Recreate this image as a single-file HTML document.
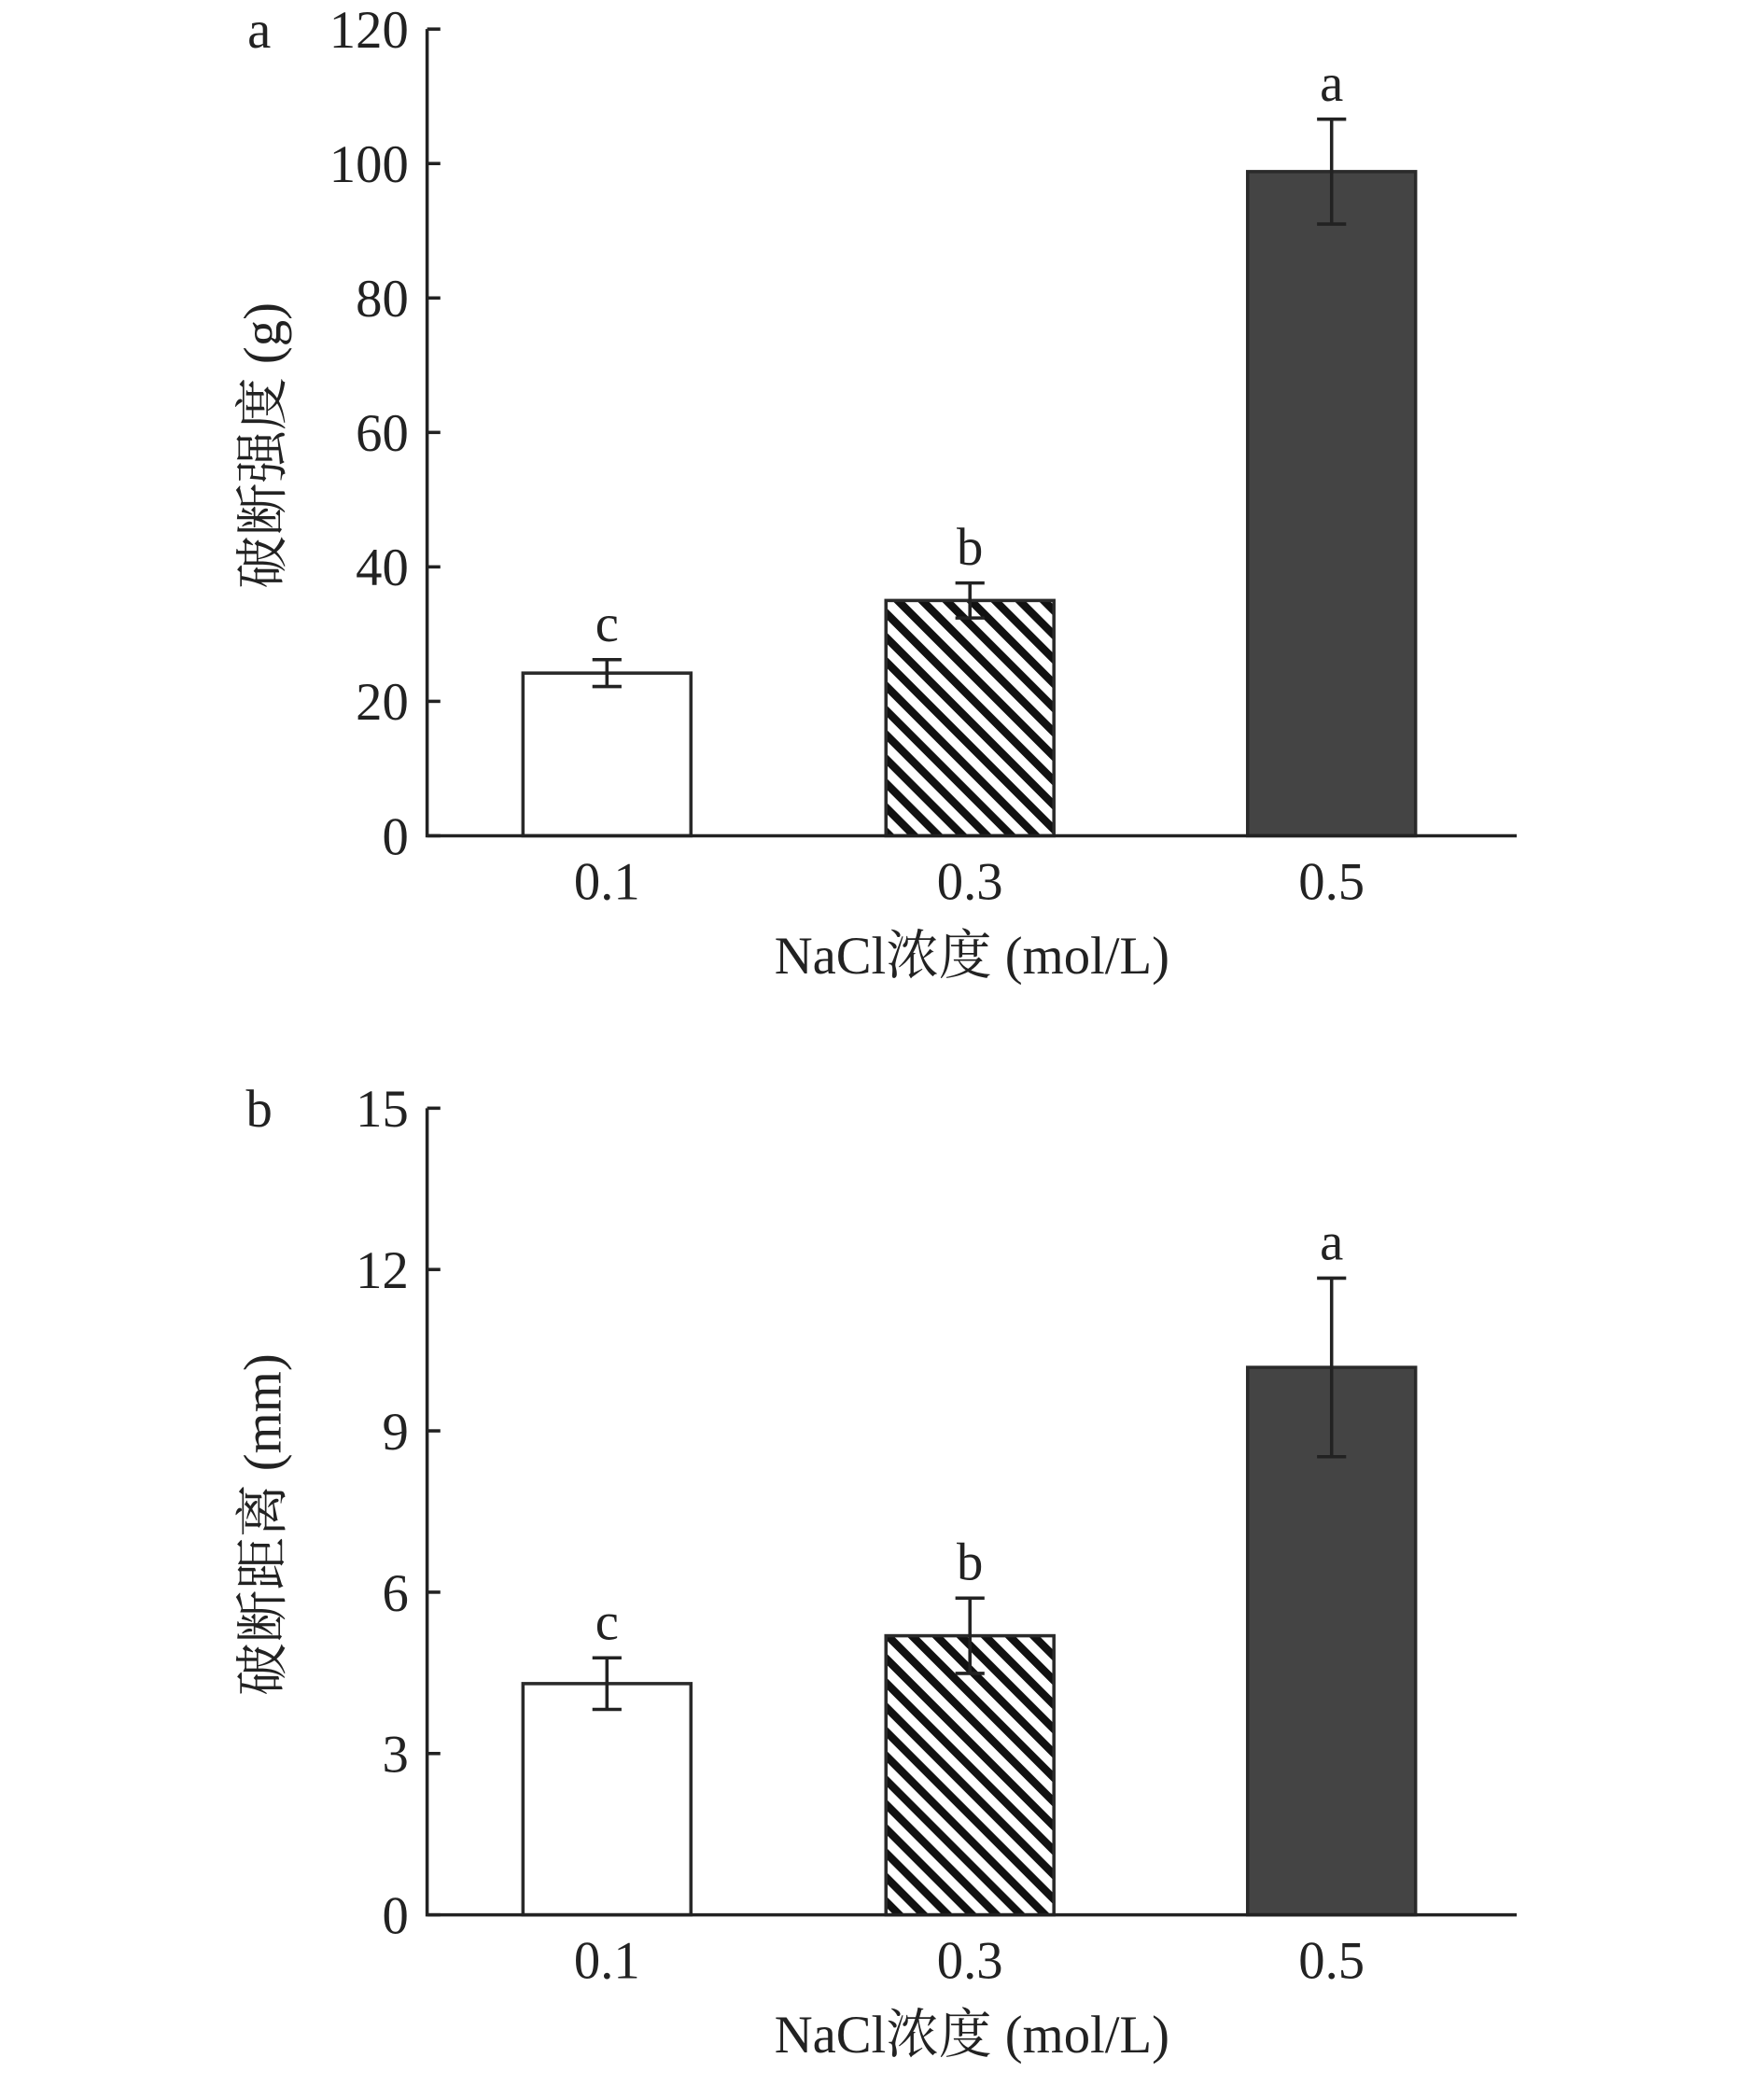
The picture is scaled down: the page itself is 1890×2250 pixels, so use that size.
<!DOCTYPE html>
<html><head><meta charset="utf-8"><style>
html,body{margin:0;padding:0;background:#fff;}
svg{display:block;}
text{font-family:"Liberation Serif","Noto Serif CJK SC",serif;fill:#222;}
</style></head><body>
<svg id="chart" width="1890" height="2250" viewBox="0 0 1334 1588" preserveAspectRatio="none" xmlns="http://www.w3.org/2000/svg">
<defs>
<pattern id="hatch" patternUnits="userSpaceOnUse" width="13" height="13" patternTransform="rotate(-45)">
<rect x="0" y="0" width="13" height="13" fill="#fff"/>
<rect x="0" y="0" width="6" height="13" fill="#111"/>
</pattern>
</defs>
</svg>
<script>
const categories = ["0.1","0.3","0.5"];
const strengthValues = [24.2, 35, 98.8];
const strengthErrors = [2, 2.6, 7.8];
const strengthLetters = ["c","b","a"];
const strengthTicks = [0,20,40,60,80,100,120];
const distanceValues = [4.3, 5.19, 10.18];
const distanceErrors = [0.48, 0.7, 1.66];
const distanceLetters = ["c","b","a"];
const distanceTicks = [0,3,6,9,12,15];

const svg = document.getElementById('chart');
const NS = 'http://www.w3.org/2000/svg';
function mk(tag, attrs, parent){
  const e = document.createElementNS(NS, tag);
  for (const k in attrs) e.setAttribute(k, attrs[k]);
  (parent||svg).appendChild(e);
  return e;
}
const fills = ["#fff","url(#hatch)","#444"];

function panel(cfg){
  const g = mk('g', {});
  
  
  const x0 = 323, x1 = 1147, top = cfg.top, bottom = cfg.bottom;
  const ymax = cfg.ticks[cfg.ticks.length-1];
  const y = v => bottom - (v/ymax)*(bottom-top);
  const centers = [459, 733.5, 1007];
  const bw = 127;
  cfg.values.forEach((v,i)=>{
    const r = mk('rect', {x:centers[i]-bw/2, y:y(v), width:bw, height:bottom-y(v), fill:fills[i], stroke:'#2a2a2a', 'stroke-width':2.5}, g);
    
    
    const e = cfg.errors[i];
    const eb = mk('path', {d:`M${centers[i]} ${y(v+e)}V${y(v-e)}M${centers[i]-11} ${y(v+e)}H${centers[i]+11}M${centers[i]-11} ${y(v-e)}H${centers[i]+11}`, stroke:'#222', 'stroke-width':2.5, fill:'none'}, g);
    
    
    const lt = mk('text', {x:centers[i], y:y(v+e)-14, 'font-size':40, 'text-anchor':'middle'}, g);
    lt.textContent = cfg.letters[i];
    
    
    const xt = mk('text', {x:centers[i], y:bottom+48, 'font-size':40, 'text-anchor':'middle'}, g);
    xt.textContent = categories[i];
    
    
  });
  const ax = mk('path', {d:`M${x0} ${top}V${bottom}H${x1}`, stroke:'#222', 'stroke-width':2.5, fill:'none'}, g);
  
  
  cfg.ticks.forEach(t=>{
    const tk = mk('line', {x1:x0, x2:x0+10, y1:y(t), y2:y(t), stroke:'#222', 'stroke-width':2.5}, g);
    
    
    const tl = mk('text', {x:x0-14, y:y(t)+14, 'font-size':40, 'text-anchor':'end'}, g);
    tl.textContent = t;
    
    
  });
  const pl = mk('text', {x:196, y:top+14, 'font-size':40, 'text-anchor':'middle'}, g);
  pl.textContent = cfg.label;
  
  
  const yt = mk('text', {x:0, y:0, 'font-size':40, 'text-anchor':'middle', transform:`translate(212 ${(top+bottom)/2 + 10}) rotate(-90)`}, g);
  yt.textContent = cfg.ytitle;
  
  
  const xtt = mk('text', {x:735, y:bottom+104, 'font-size':40, 'text-anchor':'middle'}, g);
  xtt.textContent = 'NaCl浓度 (mol/L)';
  
  
}
panel({name:'panel-a-breaking-strength', top:22, bottom:632, ticks:strengthTicks, values:strengthValues, errors:strengthErrors, letters:strengthLetters, label:'a', ytitle:'破断强度 (g)'});
panel({name:'panel-b-breaking-distance', top:838, bottom:1448, ticks:distanceTicks, values:distanceValues, errors:distanceErrors, letters:distanceLetters, label:'b', ytitle:'破断距离 (mm)'});
</script>
</body></html>
